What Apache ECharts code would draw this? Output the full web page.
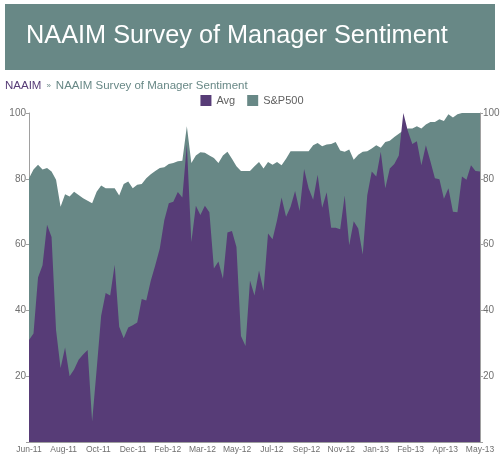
<!DOCTYPE html>
<html>
<head>
<meta charset="utf-8">
<script src="https://cdn.jsdelivr.net/npm/echarts@6/dist/echarts.min.js"></script>
<style>
  html, body {margin: 0; padding: 0; background: #fff;}
  #chart {width: 504px; height: 465px;}
</style>
</head>
<body>
<div id="chart"></div>
<script>
// weekly NAAIM readings, Jun-11 .. May-13
var tickLabels = ['Jun-11', 'Aug-11', 'Oct-11', 'Dec-11', 'Feb-12', 'Mar-12', 'May-12',
    'Jul-12', 'Sep-12', 'Nov-12', 'Jan-13', 'Feb-13', 'Apr-13', 'May-13'];

var avg = [31, 33, 50, 53.7, 66, 62.3, 34, 22.5, 28.7, 20,
    22, 25, 26.6, 28, 6.2, 22, 38.4, 45.3, 44.5, 53.9,
    35, 31.5, 34.8, 35.5, 36.3, 43.5, 43, 49, 53.7, 58.8,
    67.4, 72.6, 73, 76, 74.3, 90.4, 60.8, 71.8, 69, 71.8,
    69.8, 52.7, 54.9, 49.6, 63.7, 64.1, 59.3, 32.2, 29.2, 49.1,
    44.5, 52.1, 46, 63.4, 61.6, 67.4, 74.3, 68.5, 71.5, 76.3,
    70.2, 83, 77.1, 73.6, 81.2, 71.2, 75.9, 65.1, 65.1, 64.7,
    74.9, 59.8, 67.1, 64.9, 57, 75, 82.2, 80.7, 88.2, 77.1,
    83.1, 84.5, 87.1, 100, 94.5, 90.6, 91.4, 84.1, 90.2, 85.3,
    80.2, 79.9, 73.9, 77.1, 70, 69.8, 80.7, 79.7, 84.1, 82.4,
    82.2];

var sp500 = [80.2, 82.8, 84.3, 82.8, 83.3, 82.2, 79.7, 71.5, 75.3, 74.6,
    76.1, 75.1, 74.1, 73.3, 72.6, 76.1, 78, 77.1, 77.1, 77.1,
    74.9, 78.4, 79.2, 77.1, 78.2, 78.4, 80.2, 81.4, 82.4, 83.3,
    83.5, 84.5, 84.8, 85.3, 85.5, 96, 84.8, 87.1, 88.1, 87.9,
    87.1, 86.3, 84.8, 87.1, 88.2, 86.1, 83.8, 82.4, 82.4, 82.4,
    83.8, 85.1, 83.1, 85.1, 84.3, 85.1, 84.1, 86.1, 88.4, 88.4,
    88.4, 88.4, 88.4, 90.2, 90.9, 89.9, 90.4, 90.6, 91.2, 88.6,
    88.2, 88.9, 85.8, 87.3, 88.2, 88.4, 89.2, 90.2, 89.4, 91.2,
    91.6, 92.7, 93.7, 94.7, 95.3, 95.3, 96, 95.3, 96.5, 97.3,
    97.3, 98.1, 97.6, 99.6, 98.6, 99.6, 100, 100, 100, 100,
    100];

var purple = "#573c77";
var teal = "#688886";
var axisGrey = "#a0a0a0";
var font = 'Liberation Sans, Arial, sans-serif';
var lastIdx = avg.length - 1;
var step = lastIdx / (tickLabels.length - 1);

function pairs(arr) {
    var out = [];
    for (var i = 0; i < arr.length; i++) {
        out.push([i, arr[i]]);
    }
    return out;
}

var yAxisBase = {
    type: 'value',
    min: 0,
    max: 100,
    interval: 20,
    splitLine: {show: false},
    axisLine: {show: true, lineStyle: {color: axisGrey}},
    axisTick: {show: true, length: 3, lineStyle: {color: axisGrey}},
    axisLabel: {
        color: "#707070",
        fontSize: 10,
        margin: 3,
        fontFamily: font,
        formatter: function (v) { return v === 0 ? '' : v; }
    }
};

var option = {
    animation: false,
    graphic: [
        {type: 'rect', left: 5, top: 4, shape: {width: 490, height: 66}, style: {fill: teal}},
        {
            type: 'text', left: 26, top: 24,
            style: {text: 'NAAIM Survey of Manager Sentiment', fill: '#fff',
                font: '25.3px "Liberation Sans", Arial, sans-serif'}
        }
    ],
    title: {
        text: '{a|NAAIM} {s|»} {b|NAAIM Survey of Manager Sentiment}',
        left: 0,
        top: 72,
        textStyle: {
            fontWeight: 'normal',
            rich: {
                a: {color: purple, fontSize: 11.5, fontWeight: 'normal', fontFamily: font},
                s: {color: teal, fontSize: 8, fontWeight: 'normal', fontFamily: font},
                b: {color: teal, fontSize: 11.5, fontWeight: 'normal', fontFamily: font}
            }
        }
    },
    legend: {
        data: ['Avg', 'S&P500'],
        top: 90,
        left: 'center',
        itemWidth: 11,
        itemHeight: 11,
        itemGap: 12,
        icon: 'rect',
        textStyle: {color: "#606060", fontSize: 11, fontFamily: font}
    },
    grid: {left: 29, right: 24, top: 113, bottom: 23},
    xAxis: {
        type: 'value',
        min: 0,
        max: lastIdx,
        interval: step,
        splitLine: {show: false},
        axisLine: {lineStyle: {color: axisGrey}},
        axisTick: {show: false},
        axisLabel: {
            color: "#707070",
            fontSize: 8.5,
            margin: 3,
            showMaxLabel: true,
            fontFamily: font,
            formatter: function (v) { return tickLabels[Math.round(v / step)] || ''; }
        }
    },
    yAxis: [
        Object.assign({position: 'left'}, yAxisBase),
        Object.assign({position: 'right'}, yAxisBase)
    ],
    series: [
        {
            name: 'S&P500',
            type: 'line',
            data: pairs(sp500),
            showSymbol: false,
            color: teal,
            lineStyle: {width: 0},
            areaStyle: {color: teal, opacity: 1}
        },
        {
            name: 'Avg',
            type: 'line',
            data: pairs(avg),
            showSymbol: false,
            color: purple,
            lineStyle: {width: 0},
            areaStyle: {color: purple, opacity: 1}
        }
    ]
};

var chart = echarts.init(document.getElementById('chart'));
chart.setOption(option);
</script>
</body>
</html>
